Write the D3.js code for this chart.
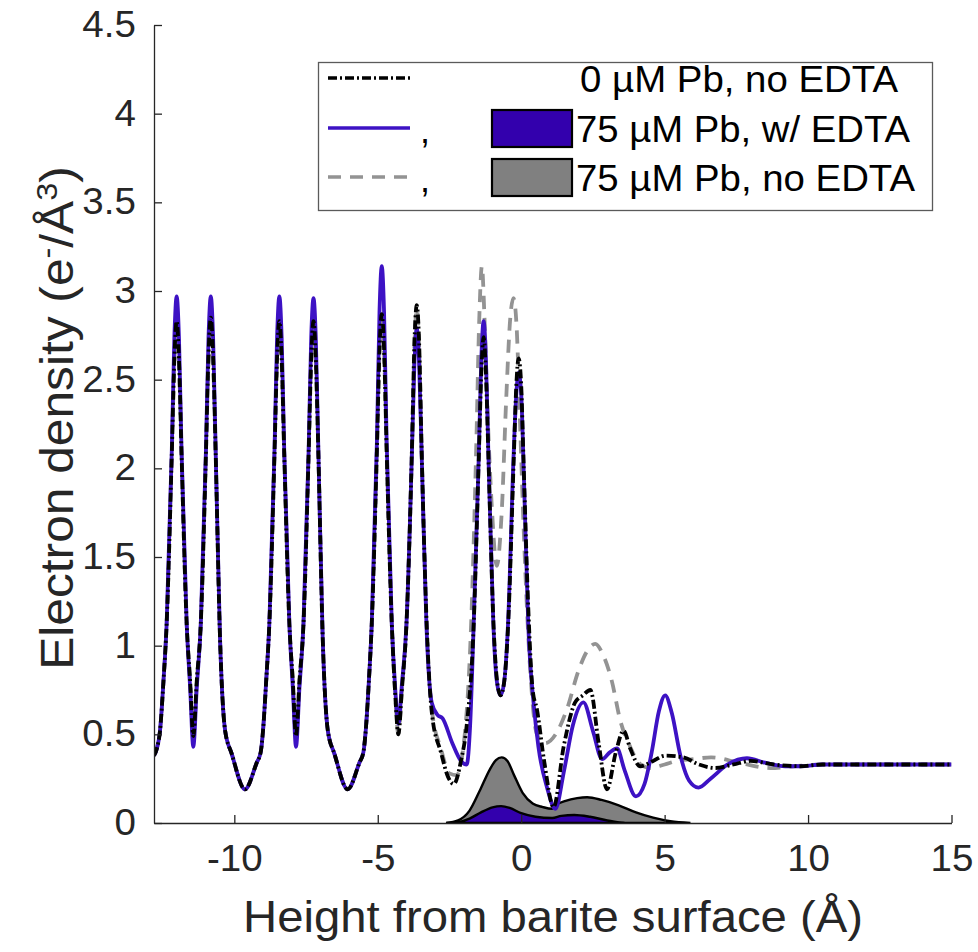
<!DOCTYPE html>
<html>
<head>
<meta charset="utf-8">
<script src="https://cdn.jsdelivr.net/npm/d3@7"></script>
<style>
  body { margin: 0; background: #fff; }
  text { font-family: "Liberation Sans", Arial, sans-serif; }
</style>
</head>
<body>
<div id="wrapper"></div>
<script>
// 1. Data (height in Å, electron density in e-/Å^3)

// 0 µM Pb, no EDTA  (black dash-dot)
const noPbLine = [
  [-12.8,0.38],[-12.7,0.42],[-12.59,0.52],[-12.47,0.8],[-12.36,1.12],[-12.18,2.08],[-12.09,2.62],[-12.01,2.83],
  [-11.93,2.62],[-11.84,2.08],[-11.66,1.12],[-11.54,0.8],[-11.43,0.49],[-11.31,0.8],[-11.17,1.12],[-10.99,2.08],
  [-10.9,2.64],[-10.82,2.85],[-10.74,2.64],[-10.65,2.08],[-10.5,1.05],[-10.32,0.52],[-10.09,0.39],[-9.63,0.19],
  [-9.22,0.34],[-9.08,0.4],[-9.0,0.52],[-8.89,0.8],[-8.78,1.12],[-8.6,2.08],[-8.51,2.62],[-8.43,2.83],
  [-8.35,2.62],[-8.26,2.08],[-8.08,1.12],[-7.96,0.8],[-7.85,0.49],[-7.73,0.8],[-7.59,1.12],[-7.41,2.08],
  [-7.32,2.62],[-7.24,2.83],[-7.16,2.62],[-7.07,2.08],[-6.92,1.05],[-6.74,0.52],[-6.51,0.39],[-6.05,0.19],
  [-5.64,0.34],[-5.5,0.4],[-5.42,0.52],[-5.31,0.8],[-5.21,1.12],[-5.03,2.1],[-4.94,2.67],[-4.86,2.87],
  [-4.78,2.67],[-4.69,2.1],[-4.51,1.12],[-4.4,0.75],[-4.28,0.5],[-4.16,0.75],[-4.0,1.12],[-3.81,2.1],
  [-3.72,2.72],[-3.64,2.92],[-3.56,2.72],[-3.47,2.1],[-3.29,1.1],[-3.1,0.6],[-2.8,0.4],[-2.55,0.26],
  [-2.35,0.22],[-2.1,0.35],[-1.9,0.55],[-1.66,1.1],[-1.48,2.05],[-1.39,2.54],[-1.31,2.74],[-1.23,2.54],
  [-1.14,2.05],[-0.96,1.1],[-0.84,0.8],[-0.72,0.72],[-0.59,0.8],[-0.46,1.1],[-0.26,2.05],[-0.17,2.47],
  [-0.09,2.62],[0.0,2.47],[0.08,2.05],[0.25,1.2],[0.4,0.75],[0.55,0.64],[0.8,0.35],[1.13,0.09],
  [1.48,0.43],[1.88,0.68],[2.15,0.72],[2.41,0.75],[2.7,0.45],[2.99,0.19],[3.3,0.4],[3.57,0.52],
  [3.8,0.42],[4.15,0.32],[4.6,0.35],[5.02,0.38],[5.65,0.37],[6.2,0.33],[6.76,0.31],[7.4,0.33],
  [7.99,0.35],[8.8,0.33],[9.73,0.32],[10.5,0.33],[15,0.33]
]

// 75 µM Pb, w/ EDTA  (purple solid)
const edtaLine = [
  [-12.8,0.38],[-12.7,0.42],[-12.59,0.52],[-12.47,0.8],[-12.36,1.12],[-12.18,2.1],[-12.09,2.74],[-12.01,2.97],
  [-11.93,2.74],[-11.84,2.1],[-11.66,1.12],[-11.54,0.76],[-11.43,0.43],[-11.31,0.76],[-11.17,1.12],[-10.99,2.1],
  [-10.9,2.74],[-10.82,2.97],[-10.74,2.74],[-10.65,2.1],[-10.5,1.05],[-10.32,0.52],[-10.09,0.39],[-9.63,0.19],
  [-9.22,0.34],[-9.08,0.4],[-9.0,0.52],[-8.89,0.8],[-8.78,1.12],[-8.6,2.1],[-8.51,2.74],[-8.43,2.97],
  [-8.35,2.74],[-8.26,2.1],[-8.08,1.12],[-7.96,0.76],[-7.85,0.43],[-7.73,0.76],[-7.59,1.12],[-7.41,2.1],
  [-7.32,2.74],[-7.24,2.96],[-7.16,2.74],[-7.07,2.1],[-6.92,1.05],[-6.74,0.52],[-6.51,0.39],[-6.05,0.19],
  [-5.64,0.34],[-5.5,0.4],[-5.42,0.52],[-5.31,0.8],[-5.21,1.12],[-5.03,2.15],[-4.94,2.88],[-4.86,3.14],
  [-4.78,2.88],[-4.69,2.15],[-4.51,1.12],[-4.4,0.78],[-4.28,0.56],[-4.16,0.78],[-4.0,1.12],[-3.81,2.08],
  [-3.72,2.6],[-3.64,2.79],[-3.56,2.6],[-3.47,2.08],[-3.3,1.1],[-3.12,0.68],[-2.92,0.61],[-2.74,0.59],
  [-2.4,0.45],[-2.1,0.35],[-1.9,0.33],[-1.78,0.55],[-1.66,1.1],[-1.48,2.06],[-1.39,2.62],[-1.31,2.83],
  [-1.23,2.62],[-1.14,2.06],[-0.97,1.12],[-0.85,0.8],[-0.72,0.72],[-0.59,0.8],[-0.46,1.12],[-0.27,2.05],
  [-0.17,2.42],[-0.09,2.54],[0.0,2.42],[0.1,1.92],[0.25,1.1],[0.43,0.68],[0.6,0.43],[0.9,0.2],
  [1.19,0.08],[1.5,0.3],[1.8,0.55],[2.17,0.68],[2.5,0.52],[2.82,0.36],[3.1,0.4],[3.34,0.42],
  [3.6,0.3],[4.0,0.15],[4.3,0.22],[4.55,0.4],[4.8,0.63],[5.02,0.72],[5.25,0.62],[5.55,0.38],
  [5.85,0.24],[6.18,0.2],[6.6,0.25],[7.2,0.33],[7.87,0.365],[8.5,0.34],[9.2,0.32],[9.73,0.32],
  [10.5,0.33],[12,0.33],[15,0.33]
]

// 75 µM Pb, no EDTA  (grey dashed)
const noEdtaLine = [
  [-12.8,0.38],[-12.7,0.42],[-12.59,0.52],[-12.47,0.8],[-12.36,1.12],[-12.18,2.08],[-12.09,2.6],[-12.01,2.8],
  [-11.93,2.6],[-11.84,2.08],[-11.66,1.12],[-11.54,0.8],[-11.43,0.49],[-11.31,0.8],[-11.17,1.12],[-10.99,2.08],
  [-10.9,2.6],[-10.82,2.8],[-10.74,2.6],[-10.65,2.08],[-10.5,1.05],[-10.32,0.52],[-10.09,0.39],[-9.63,0.19],
  [-9.22,0.34],[-9.08,0.4],[-9.0,0.52],[-8.89,0.8],[-8.78,1.12],[-8.6,2.08],[-8.51,2.6],[-8.43,2.8],
  [-8.35,2.6],[-8.26,2.08],[-8.08,1.12],[-7.96,0.8],[-7.85,0.49],[-7.73,0.8],[-7.59,1.12],[-7.41,2.08],
  [-7.32,2.6],[-7.24,2.8],[-7.16,2.6],[-7.07,2.08],[-6.92,1.05],[-6.74,0.52],[-6.51,0.39],[-6.05,0.19],
  [-5.64,0.34],[-5.5,0.4],[-5.42,0.52],[-5.31,0.8],[-5.21,1.12],[-5.03,2.1],[-4.94,2.65],[-4.86,2.85],
  [-4.78,2.65],[-4.69,2.1],[-4.51,1.12],[-4.4,0.75],[-4.28,0.5],[-4.16,0.75],[-4.0,1.12],[-3.81,2.1],
  [-3.72,2.7],[-3.64,2.9],[-3.56,2.7],[-3.47,2.1],[-3.29,1.1],[-3.1,0.62],[-2.8,0.42],[-2.5,0.28],
  [-2.25,0.27],[-2.0,0.45],[-1.75,1.1],[-1.57,2.1],[-1.46,2.85],[-1.37,3.14],[-1.28,2.85],[-1.18,2.35],
  [-1.03,1.8],[-0.85,1.45],[-0.68,1.75],[-0.52,2.4],[-0.38,2.85],[-0.27,2.96],[-0.16,2.8],[-0.05,2.3],
  [0.1,1.6],[0.3,0.9],[0.55,0.5],[0.84,0.45],[1.2,0.5],[1.59,0.64],[2.0,0.86],[2.3,0.97],
  [2.58,1.01],[2.85,0.95],[3.16,0.8],[3.45,0.58],[3.8,0.43],[4.1,0.34],[4.5,0.31],[5.0,0.33],
  [5.43,0.35],[6.0,0.36],[6.62,0.37],[7.6,0.34],[8.69,0.31],[9.5,0.32],[10.5,0.33],[15,0.33]
]

// Pb distributions (filled)
const pbNoEdtaArea = [
  [-2.62,0],[-2.2,0.015],[-1.8,0.07],[-1.45,0.18],[-1.1,0.3],[-0.88,0.355],[-0.68,0.37],[-0.48,0.35],
  [-0.25,0.27],[0.05,0.17],[0.4,0.11],[0.75,0.09],[1.08,0.08],[1.2,0.1],[1.55,0.125],[1.95,0.14],
  [2.3,0.145],[2.8,0.13],[3.4,0.1],[4.0,0.06],[4.6,0.03],[5.2,0.01],[5.9,0]
]
const pbEdtaArea = [
  [-2.6,0],[-2.2,0.005],[-1.8,0.025],[-1.4,0.06],[-1.0,0.088],[-0.7,0.095],[-0.4,0.085],[0.0,0.055],
  [0.5,0.035],[1.08,0.028],[1.4,0.04],[1.85,0.045],[2.4,0.035],[3.0,0.015],[3.6,0]
]

const xTicks = [-10, -5, 0, 5, 10, 15]
const yTicks = [0, 0.5, 1, 1.5, 2, 2.5, 3, 3.5, 4, 4.5]
const legendLabels = ["0 µM Pb, no EDTA", "75 µM Pb, w/ EDTA", "75 µM Pb, no EDTA"]

const purple = "#3d12c4"
const purpleFill = "#3300ad"
const greyFill = "#808080"
const greyLine = "#939393"
const axisColor = "#262626"

// 2. Dimensions
const dimensions = {
  width: 978,
  height: 952,
  left: 154,
  right: 951.5,
  top: 25,
  bottom: 823,
}

// 3. Canvas
const svg = d3.select("#wrapper")
  .append("svg")
  .attr("width", dimensions.width)
  .attr("height", dimensions.height)
  .style("display", "block")

svg.append("rect")
  .attr("width", dimensions.width)
  .attr("height", dimensions.height)
  .attr("fill", "#fff")

svg.append("clipPath").attr("id", "plot-clip")
  .append("rect")
  .attr("x", dimensions.left)
  .attr("y", dimensions.top)
  .attr("width", dimensions.right - dimensions.left)
  .attr("height", dimensions.bottom - dimensions.top)

// 4. Scales
const xScale = d3.scaleLinear().domain([-12.8, 15]).range([dimensions.left, dimensions.right])
const yScale = d3.scaleLinear().domain([0, 4.5]).range([dimensions.bottom, dimensions.top])

// 5. Draw data
const plot = svg.append("g").attr("clip-path", "url(#plot-clip)")

const areaGen = d3.area()
  .x(d => xScale(d[0]))
  .y0(yScale(0))
  .y1(d => yScale(d[1]))
  .curve(d3.curveMonotoneX)

plot.append("path")
  .datum(pbNoEdtaArea)
  .attr("d", areaGen)
  .attr("fill", greyFill)
  .attr("stroke", "#000")
  .attr("stroke-width", 2.4)

plot.append("path")
  .datum(pbEdtaArea)
  .attr("d", areaGen)
  .attr("fill", purpleFill)
  .attr("stroke", "#000")
  .attr("stroke-width", 2.4)

const lineGen = d3.line()
  .x(d => xScale(d[0]))
  .y(d => yScale(d[1]))
  .curve(d3.curveMonotoneX)

plot.append("path")
  .datum(noEdtaLine)
  .attr("d", lineGen)
  .attr("fill", "none")
  .attr("stroke", greyLine)
  .attr("stroke-width", 3.8)
  .attr("stroke-dasharray", "13,9")

plot.append("path")
  .datum(edtaLine)
  .attr("d", lineGen)
  .attr("fill", "none")
  .attr("stroke", purple)
  .attr("stroke-width", 3.8)

plot.append("path")
  .datum(noPbLine)
  .attr("d", lineGen)
  .attr("fill", "none")
  .attr("stroke", "#000")
  .attr("stroke-width", 3.8)
  .attr("stroke-dasharray", "9,3,2,3")

// 6. Peripherals
const xAxis = svg.append("g")
  .attr("transform", `translate(0,${dimensions.bottom})`)
  .call(d3.axisBottom(xScale)
    .tickValues(xTicks)
    .tickSizeInner(-8)
    .tickSizeOuter(0)
    .tickPadding(22)
    .tickFormat(d => String(d)))

const yAxis = svg.append("g")
  .attr("transform", `translate(${dimensions.left},0)`)
  .call(d3.axisLeft(yScale)
    .tickValues(yTicks)
    .tickSizeInner(-8)
    .tickSizeOuter(0)
    .tickPadding(17)
    .tickFormat(d => String(d)))

;[xAxis, yAxis].forEach(ax => {
  ax.attr("color", axisColor)
    .attr("font-size", 36)
    .attr("font-family", '"Liberation Sans", Arial, sans-serif')
  ax.select(".domain").attr("stroke-width", 1.3)
  ax.selectAll(".tick line").attr("stroke-width", 1.3)
  ax.selectAll(".tick text").attr("transform", "scale(1.07,1)")
})

svg.append("text")
  .attr("x", 243)
  .attr("y", 932)
  .attr("font-size", 44)
  .attr("fill", axisColor)
  .attr("textLength", 620)
  .attr("lengthAdjust", "spacingAndGlyphs")
  .text("Height from barite surface (Å)")

const yLabel = svg.append("text")
  .attr("transform", "translate(73,418) rotate(-90) scale(1.08,1)")
  .attr("text-anchor", "middle")
  .attr("font-size", 46)
  .attr("fill", axisColor)
yLabel.append("tspan").text("Electron density (e")
yLabel.append("tspan").attr("font-size", 30).attr("baseline-shift", "super").text("-")
yLabel.append("tspan").text("/Å")
yLabel.append("tspan").attr("font-size", 30).attr("baseline-shift", "super").text("3")
yLabel.append("tspan").text(")")

// legend
const legend = svg.append("g")
legend.append("rect")
  .attr("x", 318.5).attr("y", 62.5)
  .attr("width", 614).attr("height", 148)
  .attr("fill", "#fff")
  .attr("stroke", "#5a5a5a")
  .attr("stroke-width", 1.3)

const rowY = [78, 128, 177]
const legendLines = [
  { stroke: "#000", dash: "9,3,2,3" },
  { stroke: purple, dash: null },
  { stroke: greyLine, dash: "13,9" },
]
legendLines.forEach((s, i) => {
  legend.append("line")
    .attr("x1", 328).attr("x2", 410)
    .attr("y1", rowY[i]).attr("y2", rowY[i])
    .attr("stroke", s.stroke)
    .attr("stroke-width", 3.5)
    .attr("stroke-dasharray", s.dash)
})

const swatches = [null, purpleFill, greyFill]
swatches.forEach((fill, i) => {
  if (!fill) return
  legend.append("text")
    .attr("x", 420).attr("y", rowY[i] + 15)
    .attr("font-size", 36).attr("fill", "#000")
    .text(",")
  legend.append("rect")
    .attr("x", 492).attr("y", rowY[i] - 18)
    .attr("width", 80).attr("height", 37)
    .attr("fill", fill)
    .attr("stroke", "#000")
    .attr("stroke-width", 2.2)
})

const legendTextX = [580, 576, 576]
const legendTextW = [318, 334, 339]
legendLabels.forEach((label, i) => {
  legend.append("text")
    .attr("x", legendTextX[i])
    .attr("y", rowY[i] + 14)
    .attr("font-size", 36)
    .attr("fill", "#000")
    .attr("textLength", legendTextW[i])
    .attr("lengthAdjust", "spacingAndGlyphs")
    .text(label)
})
</script>
</body>
</html>
